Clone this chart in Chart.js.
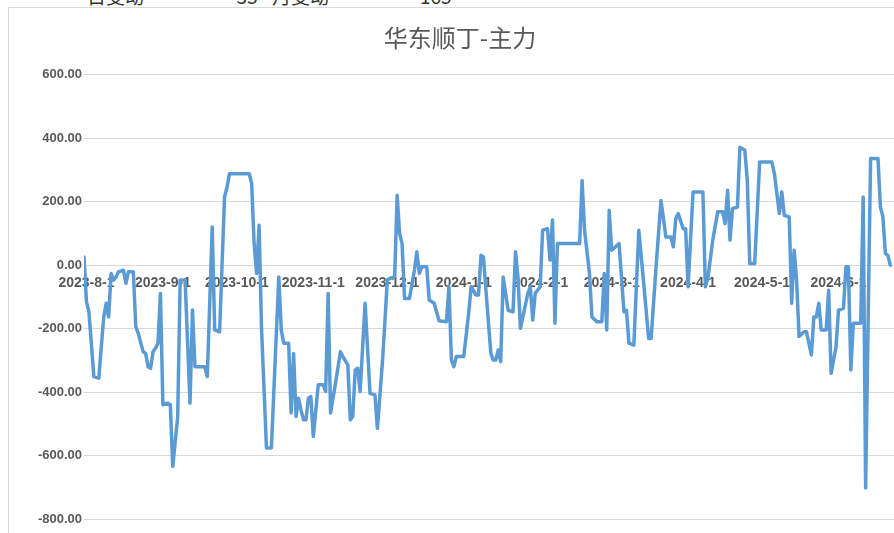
<!DOCTYPE html>
<html>
<head>
<meta charset="utf-8">
<script src="https://cdn.jsdelivr.net/npm/chart.js@4.4.1/dist/chart.umd.min.js"></script>
<style>
  html, body { margin: 0; padding: 0; background: #fff; overflow: hidden; width: 894px; height: 533px; }
  .hdr { position: absolute; top: -14px; font-size: 19px; line-height: 19px; font-family: "Noto Sans CJK SC", sans-serif; color: #333; white-space: nowrap; }
  #box { position: absolute; left: 8px; top: 7px; width: 902px; height: 525px; border-left: 1px solid #d9d9d9; border-top: 1px solid #d9d9d9; }
</style>
</head>
<body>
<span class="hdr" style="left:87px">日变动</span>
<span class="hdr" style="left:230px">-35</span>
<span class="hdr" style="left:272px">月变动</span>
<span class="hdr" style="left:420px">165</span>
<div id="box"><canvas id="main-chart"></canvas></div>
<script>
// 华东顺丁 - 主力合约 价差（日期 / 数值）
const dates = [
  '2023-07-31', '2023-08-01', '2023-08-02', '2023-08-04', '2023-08-06', '2023-08-08', '2023-08-09', '2023-08-10',
  '2023-08-11', '2023-08-12', '2023-08-13', '2023-08-14', '2023-08-16', '2023-08-17', '2023-08-18', '2023-08-20',
  '2023-08-21', '2023-08-22', '2023-08-24', '2023-08-25', '2023-08-26', '2023-08-27', '2023-08-28', '2023-08-29',
  '2023-08-30', '2023-08-31', '2023-09-01', '2023-09-03', '2023-09-04', '2023-09-05', '2023-09-07', '2023-09-08',
  '2023-09-10', '2023-09-12', '2023-09-13', '2023-09-14', '2023-09-18', '2023-09-19', '2023-09-21', '2023-09-22',
  '2023-09-24', '2023-09-26', '2023-09-27', '2023-09-28', '2023-10-06', '2023-10-07', '2023-10-08', '2023-10-09',
  '2023-10-10', '2023-10-11', '2023-10-13', '2023-10-15', '2023-10-18', '2023-10-19', '2023-10-20', '2023-10-22',
  '2023-10-23', '2023-10-24', '2023-10-25', '2023-10-26', '2023-10-27', '2023-10-28', '2023-10-29', '2023-10-30',
  '2023-10-31', '2023-11-01', '2023-11-03', '2023-11-05', '2023-11-06', '2023-11-07', '2023-11-08', '2023-11-10',
  '2023-11-12', '2023-11-13', '2023-11-15', '2023-11-16', '2023-11-17', '2023-11-18', '2023-11-19', '2023-11-20',
  '2023-11-22', '2023-11-24', '2023-11-26', '2023-11-27', '2023-11-29', '2023-11-30', '2023-12-01', '2023-12-02',
  '2023-12-04', '2023-12-05', '2023-12-06', '2023-12-07', '2023-12-08', '2023-12-10', '2023-12-12', '2023-12-13',
  '2023-12-14', '2023-12-15', '2023-12-17', '2023-12-18', '2023-12-20', '2023-12-22', '2023-12-25', '2023-12-26',
  '2023-12-27', '2023-12-28', '2023-12-29', '2024-01-01', '2024-01-03', '2024-01-04', '2024-01-06', '2024-01-07',
  '2024-01-08', '2024-01-09', '2024-01-10', '2024-01-12', '2024-01-13', '2024-01-14', '2024-01-15', '2024-01-16',
  '2024-01-17', '2024-01-19', '2024-01-21', '2024-01-22', '2024-01-23', '2024-01-24', '2024-01-27', '2024-01-28',
  '2024-01-29', '2024-01-30', '2024-02-01', '2024-02-02', '2024-02-04', '2024-02-05', '2024-02-06', '2024-02-07',
  '2024-02-08', '2024-02-17', '2024-02-18', '2024-02-19', '2024-02-21', '2024-02-22', '2024-02-24', '2024-02-26',
  '2024-02-27', '2024-02-28', '2024-02-29', '2024-03-01', '2024-03-04', '2024-03-06', '2024-03-07', '2024-03-08',
  '2024-03-10', '2024-03-12', '2024-03-14', '2024-03-16', '2024-03-17', '2024-03-19', '2024-03-21', '2024-03-23',
  '2024-03-25', '2024-03-26', '2024-03-27', '2024-03-28', '2024-03-30', '2024-03-31', '2024-04-01', '2024-04-03',
  '2024-04-07', '2024-04-08', '2024-04-09', '2024-04-11', '2024-04-13', '2024-04-15', '2024-04-16', '2024-04-17',
  '2024-04-18', '2024-04-19', '2024-04-21', '2024-04-22', '2024-04-24', '2024-04-25', '2024-04-26', '2024-04-28',
  '2024-04-29', '2024-04-30', '2024-05-05', '2024-05-06', '2024-05-08', '2024-05-09', '2024-05-10', '2024-05-12',
  '2024-05-13', '2024-05-14', '2024-05-15', '2024-05-16', '2024-05-18', '2024-05-19', '2024-05-21', '2024-05-22',
  '2024-05-23', '2024-05-24', '2024-05-25', '2024-05-27', '2024-05-28', '2024-05-29', '2024-05-31', '2024-06-01',
  '2024-06-03', '2024-06-04', '2024-06-05', '2024-06-06', '2024-06-07', '2024-06-10', '2024-06-11', '2024-06-12',
  '2024-06-14', '2024-06-17', '2024-06-18', '2024-06-19', '2024-06-20', '2024-06-21', '2024-06-22'
]
const spread = [
  26, -115, -147, -351, -356, -163, -120, -163,
  -26, -47, -37, -21, -16, -57, -21, -21,
  -194, -215, -273, -278, -320, -325, -273, -262,
  -246, -89, -440, -435, -440, -634, -477, -47,
  -47, -435, -141, -320, -320, -351, 120, -204,
  -210, 215, 246, 288, 288, 257, 68, -26,
  126, -200, -576, -576, -37, -204, -246, -246,
  -466, -278, -477, -419, -456, -487, -487, -419,
  -414, -540, -377, -377, -398, -89, -466, -372,
  -273, -288, -315, -487, -477, -330, -325, -398,
  -120, -404, -409, -514, -309, -183, -47, -42,
  -37, 220, 100, 68, -105, -105, -16, 42,
  -26, -5, -5, -110, -120, -175, -178, -68,
  -299, -320, -288, -288, -152, -68, -94, -94,
  31, 26, -79, -278, -299, -299, -267, -304,
  -37, -142, -147, 42, -37, -199, -89, -68,
  -173, -89, -68, 110, 115, 16, 142, -183,
  68, 68, 267, 110, -26, -163, -178, -178,
  -26, -204, 173, 47, 68, -147, -142, -246,
  -252, 110, -58, -231, -231, -5, 204, 89,
  89, 58, 147, 163, 115, 115, -68, 231,
  231, -68, -42, 79, 168, 168, 131, 236,
  79, 178, 183, 372, 362, 267, 5, 5,
  163, 325, 325, 288, 163, 231, 157, 152,
  -120, 47, -47, -225, -210, -210, -283, -163,
  -163, -120, -204, -204, -79, -341, -257, -142,
  -136, -5, -5, -330, -183, -183, 215, -702,
  336, 336, 183, 152, 37, 31, 0
]
const monthLabels = ['2023-8-1', '2023-9-1', '2023-10-1', '2023-11-1', '2023-12-1', '2024-1-1',
  '2024-2-1', '2024-3-1', '2024-4-1', '2024-5-1', '2024-6-1']

const dayZero = Date.UTC(2023, 7, 1)
function dayNo(s) {
  let p = s.split('-')
  return (Date.UTC(+p[0], +p[1] - 1, +p[2]) - dayZero) / 86400000
}

let points = dates.map((d, i) => ({ x: dayNo(d), y: spread[i] }))
let tickDays = monthLabels.map(dayNo)

let labelFont = { family: '"Liberation Sans", Arial, sans-serif', size: 14, weight: 'bold' }

new Chart(document.getElementById('main-chart'), {
  type: 'line',
  data: {
    datasets: [{
      data: points,
      borderColor: '#5b9bd5',
      borderWidth: 3.5,
      pointRadius: 0,
      tension: 0,
      fill: false,
      borderJoinStyle: 'round',
      borderCapStyle: 'round'
    }]
  },
  options: {
    responsive: true,
    maintainAspectRatio: false,
    animation: false,
    layout: { padding: { left: 17, right: 17, top: 0, bottom: 14 } },
    plugins: {
      legend: { display: false },
      tooltip: { enabled: false },
      title: {
        display: true,
        text: '华东顺丁-主力',
        color: '#595959',
        font: { family: '"Noto Sans CJK SC", sans-serif', size: 24, weight: 'normal' },
        padding: { top: 15, bottom: 23 }
      }
    },
    scales: {
      x: {
        type: 'linear',
        position: { y: 0 },
        min: -1,
        max: 327.5,
        z: 1,
        grid: { display: false, drawTicks: false },
        border: { display: false },
        afterBuildTicks: (scale) => { scale.ticks = tickDays.map(v => ({ value: v })) },
        ticks: {
          autoSkip: false,
          maxRotation: 0,
          minRotation: 0,
          padding: 10,
          color: '#595959',
          font: labelFont,
          callback: (v, i) => monthLabels[i]
        }
      },
      y: {
        min: -800,
        max: 600,
        grid: { color: '#d9d9d9', lineWidth: 1, drawTicks: false },
        border: { display: false },
        afterFit: (scale) => { scale.width = 58 },
        ticks: {
          stepSize: 200,
          padding: 2,
          color: '#595959',
          font: { family: '"Liberation Sans", Arial, sans-serif', size: 13, weight: 'bold' },
          callback: (v) => v.toFixed(2)
        }
      }
    }
  }
})
</script>
</body>
</html>
